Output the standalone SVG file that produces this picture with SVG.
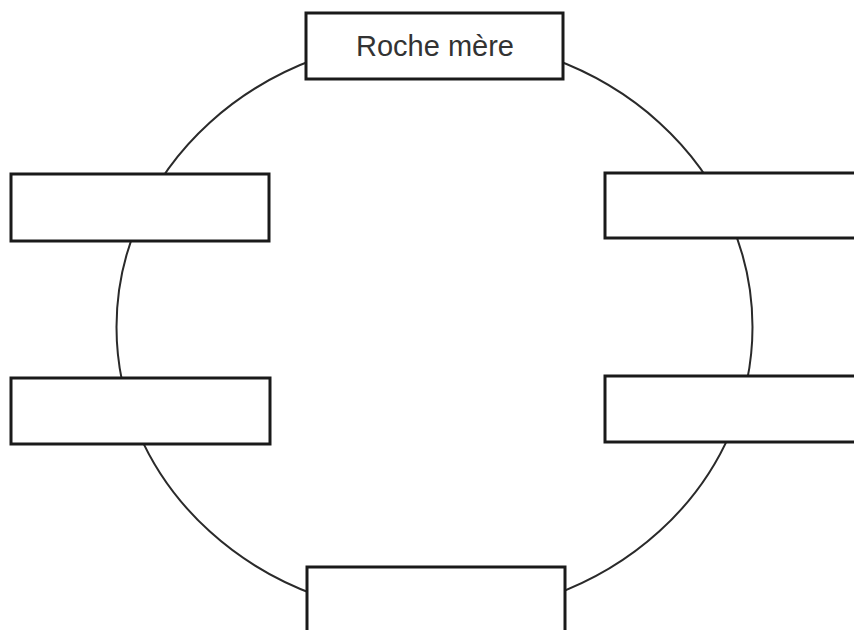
<svg xmlns="http://www.w3.org/2000/svg" width="854" height="630" viewBox="0 0 854 630">
<style>
.box{fill:#fff;stroke:#1a1a1a;stroke-width:3}
.ring{fill:none;stroke:#2a2a2a;stroke-width:2}
.lbl{font-family:"Liberation Sans",Arial,sans-serif;font-size:29px;fill:#333;text-anchor:middle}
</style>
<rect width="854" height="630" fill="#fff"/>
<g id="connectors">
<ellipse class="ring" cx="434.5" cy="327" rx="318" ry="289"/>
</g>
<g id="node-top">
<rect class="box" x="306" y="13" width="257" height="66"/>
<text class="lbl" x="435" y="56">Roche mère</text>
</g>
<g id="node-left-top">
<rect class="box" x="11" y="174" width="258" height="67"/>
</g>
<g id="node-right-top">
<rect class="box" x="605" y="173" width="260" height="65"/>
</g>
<g id="node-left-bottom">
<rect class="box" x="11" y="378" width="259" height="66"/>
</g>
<g id="node-right-bottom">
<rect class="box" x="605" y="376" width="260" height="66"/>
</g>
<g id="node-bottom">
<rect class="box" x="307" y="567" width="258" height="80"/>
</g>
</svg>
